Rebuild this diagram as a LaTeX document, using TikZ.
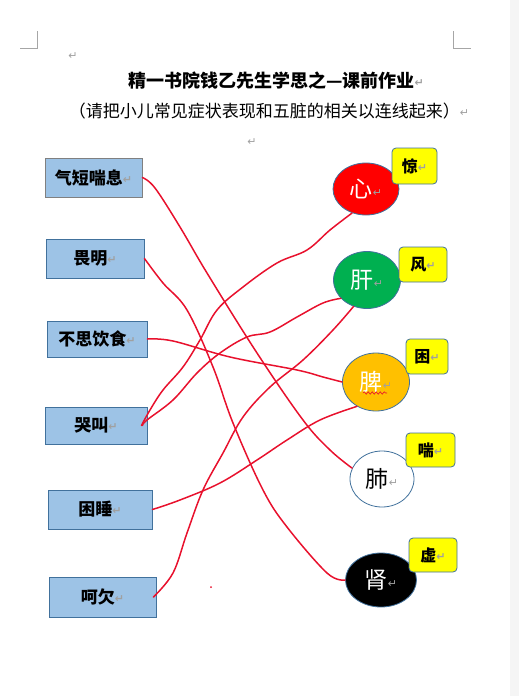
\documentclass[tikz,border=0pt]{standalone}
\usepackage{fontspec}
\newfontfamily\cjk{Noto Sans CJK SC}
\newfontfamily\markfont{DejaVu Sans}
\usetikzlibrary{shapes.geometric,decorations.pathmorphing}
\definecolor{wzblue}{HTML}{9DC3E6}
\definecolor{wzedge}{HTML}{41719C}
\definecolor{wzred}{HTML}{E8112D}
\definecolor{wzheart}{HTML}{FF0000}
\definecolor{wzliver}{HTML}{00B050}
\definecolor{wzspleen}{HTML}{FFC000}
\definecolor{wzyellow}{HTML}{FFFF00}
\definecolor{wzmark}{HTML}{A0A0A0}
\newcommand\rmark{{\markfont\fontsize{11}{11}\selectfont\color{wzmark}\raisebox{1pt}{↵}}}
\tikzset{
  wz symptom/.style={draw=wzedge, line width=0.9pt, fill=wzblue, inner sep=0pt,
    font=\cjk\bfseries\fontsize{17}{17}\selectfont},
  wz organ/.style={ellipse, draw=wzedge, line width=0.8pt, inner sep=0pt,
    font=\cjk\fontsize{23}{23}\selectfont},
  wz tag/.style={draw=wzedge, line width=0.8pt, fill=wzyellow, rounded corners=4pt,
    inner sep=0pt, font=\cjk\bfseries\fontsize{16}{16}\selectfont},
  wz link/.style={draw=wzred, line width=1.5pt, line cap=round, line join=round},
  wz crop/.style={draw=gray!70, line width=0.6pt}
}
\begin{document}
\begin{tikzpicture}[x=1pt, y=-1pt]
  \useasboundingbox (0,0) rectangle (519,696);
  \fill[gray!8] (510,0) rectangle (519,696);
  \draw[wz crop] (20,48) -- (37,48) -- (37,31);
  \draw[wz crop] (453,31) -- (453,48) -- (471,48);
  \node (mark1) at (73,57) {\rmark};
  \node (title) at (276,81) {\cjk\bfseries\fontsize{18}{18}\selectfont 精一书院钱乙先生学思之—课前作业\rmark};
  \node (task) at (269,111) {\cjk\fontsize{17}{17}\selectfont （请把小儿常见症状表现和五脏的相关以连线起来）\rmark};
  \node (mark2) at (252,143) {\rmark};
  % symptoms
  \node[wz symptom, draw=gray, minimum width=97pt, minimum height=39pt] (breath) at (93.5,177.5) {气短喘息\rmark};
  \foreach \n/\x/\y/\w/\h/\t in {light/95/258.5/98/39/畏明, appetite/97/339/100/36/不思饮食,
      cry/96/425.5/102/37/哭叫, sleepy/100/509.5/104/39/困睡, yawn/102.5/597/107/40/呵欠} {
    \node[wz symptom, minimum width=\w pt, minimum height=\h pt] (\n) at (\x,\y) {\t\rmark};
  }
  % organs
  \node[wz organ, fill=wzheart, text=white, minimum width=66pt, minimum height=52pt] (heart) at (366,189) {心\rmark};
  \node[wz organ, fill=wzliver, text=white, minimum width=67pt, minimum height=57pt] (liver) at (367,280) {肝\rmark};
  \node[wz organ, fill=wzspleen, text=white, minimum width=67pt, minimum height=58pt] (spleen) at (376,382) {脾\rmark};
  \node[wz organ, fill=white, text=black, minimum width=64pt, minimum height=56pt] (lung) at (382,479) {肺\rmark};
  \node[wz organ, fill=black, text=white, minimum width=71pt, minimum height=54pt] (kidney) at (381,580) {肾\rmark};
  \draw[wzred, line width=0.6pt, decorate, decoration={snake, amplitude=1.2pt, segment length=4pt}] (363,393) -- (387,393);
  \foreach \n/\x/\y/\w/\h/\t in {fright/414.5/166/45/36/惊, wind/423/264.5/48/35/风,
      tired/427/356.5/42/35/困, pant/430.5/450/49/34/喘, weak/433/555/48/34/虚} {
    \node[wz tag, minimum width=\w pt, minimum height=\h pt] (\n) at (\x,\y) {\t\rmark};
  }
  % links
  \draw[wz link] plot[smooth, tension=0.6] coordinates {(breath.east) (155,188) (180,227) (207,273) (257,353) (303,420) (330,450) (lung.160)};
  \draw[wz link] plot[smooth, tension=0.6] coordinates {(light.east) (163,283) (187,310) (213,367) (233,423) (263,490) (287,527) (327,573) (kidney.west)};
  \draw[wz link] plot[smooth, tension=0.6] coordinates {(appetite.east) (173,341) (230,357) (297,370) (323,377) (spleen.west)};
  \draw[wz link] plot[smooth, tension=0.6] coordinates {([xshift=-6pt]cry.east) (150,410) (163,390) (183,367) (200,340) (217,310) (243,287) (277,263) (307,250) (330,230) (heart.240)};
  \draw[wz link] plot[smooth, tension=0.6] coordinates {([xshift=-5pt]cry.east) (147,420) (173,400) (197,373) (220,353) (247,337) (270,332) (297,317) (323,303) (liver.215)};
  \draw[wz link] plot[smooth, tension=0.6] coordinates {(sleepy.east) (180,500) (220,483) (257,460) (287,440) (320,420) (spleen.232)};
  \draw[wz link] plot[smooth, tension=0.6] coordinates {([xshift=-3pt]yawn.east) (173,573) (187,533) (203,490) (223,453) (243,417) (270,387) (303,360) (333,330) (liver.243)};
  \fill[wzred] (211,587) circle (1);
\end{tikzpicture}
\end{document}
